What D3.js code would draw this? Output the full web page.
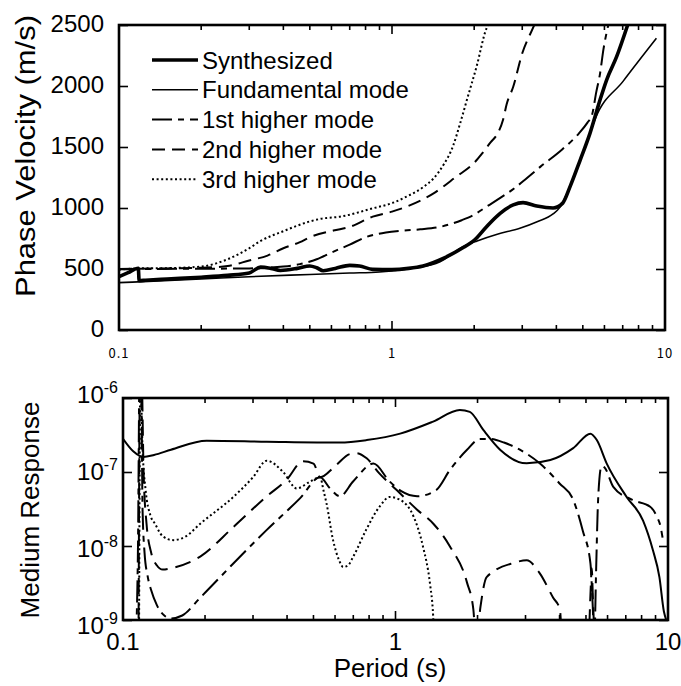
<!DOCTYPE html>
<html><head><meta charset="utf-8">
<script src="https://cdn.jsdelivr.net/npm/d3@7"></script>
<style>body{margin:0;background:#fff}svg{display:block}</style>
</head><body>
<script>
// ---------- DATA ----------
const velTicks = [0, 500, 1000, 1500, 2000, 2500];
const periodMajor = [0.1, 1, 10];
const periodLabels = ["0.1", "1", "10"];
const respTicks = [1e-6, 1e-7, 1e-8, 1e-9];
const respExp = ["-6", "-7", "-8", "-9"];
const legendLabels = ["Synthesized", "Fundamental mode", "1st higher mode", "2nd higher mode", "3rd higher mode"];

// Phase velocity (m/s) vs period (s)
const synthT = [0.1, 0.108, 0.1177, 0.1185, 0.125, 0.15, 0.2, 0.25, 0.3, 0.33, 0.36, 0.39, 0.45, 0.5, 0.53, 0.56, 0.62, 0.7, 0.76, 0.85, 1.0, 1.15, 1.3, 1.54, 1.83, 2.0, 2.22, 2.49, 2.78, 3.02, 3.39, 3.89, 4.22, 4.49, 4.89, 5.31, 5.78, 6.11, 6.65, 7.3];
const synthV = [437, 470, 506, 405, 408, 418, 433, 448, 468, 515, 505, 488, 505, 525, 510, 486, 505, 530, 525, 497, 495, 505, 525, 587, 678, 735, 847, 956, 1025, 1044, 1016, 1000, 1040, 1175, 1393, 1612, 1885, 2049, 2240, 2500];
const fundT = [0.1, 0.2, 0.3, 0.5, 0.7, 0.9, 1.0, 1.19, 1.5, 1.82, 2.05, 2.43, 2.94, 3.4, 3.89, 4.12, 4.49, 4.89, 5.31, 5.55, 7.03, 9.3];
const fundV = [388, 418, 437, 455, 467, 476, 485, 506, 560, 683, 730, 785, 834, 888, 951, 1005, 1175, 1393, 1612, 1730, 2040, 2391];
const mode1T = [0.1, 0.2, 0.3, 0.4, 0.46, 0.53, 0.6, 0.7, 0.8, 0.95, 1.1, 1.27, 1.5, 1.67, 1.8, 2.0, 2.22, 2.5, 2.8, 3.1, 3.5, 4.2, 4.84, 5.2, 5.4, 5.6, 5.78, 5.95, 6.1, 6.2];
const mode1V = [500, 502, 505, 520, 540, 580, 635, 700, 760, 800, 815, 825, 845, 874, 900, 945, 1011, 1085, 1160, 1240, 1339, 1480, 1612, 1700, 1760, 1950, 2100, 2300, 2430, 2500];
const mode2T = [0.1, 0.15, 0.2, 0.25, 0.3, 0.35, 0.4, 0.46, 0.5, 0.61, 0.7, 0.85, 1.0, 1.13, 1.42, 1.72, 2.0, 2.14, 2.3, 2.44, 2.55, 2.63, 2.78, 3.0, 3.3, 3.32];
const mode2V = [500, 505, 510, 525, 570, 610, 670, 720, 760, 815, 845, 929, 970, 1011, 1120, 1257, 1370, 1448, 1540, 1612, 1721, 1850, 1994, 2268, 2486, 2500];
const mode3T = [0.1, 0.12, 0.15, 0.2, 0.25, 0.3, 0.33, 0.4, 0.45, 0.5, 0.55, 0.65, 0.85, 1.0, 1.13, 1.3, 1.42, 1.55, 1.67, 1.78, 1.88, 2.04, 2.22, 2.25];
const mode3V = [495, 505, 507, 520, 580, 670, 730, 810, 855, 890, 912, 930, 997, 1040, 1093, 1170, 1243, 1360, 1503, 1700, 1885, 2158, 2473, 2500];

// Medium response vs period (s)
const rFundT = [0.1, 0.109, 0.1187, 0.13, 0.15, 0.2027, 0.337, 0.625, 0.784, 1.04, 1.374, 1.722, 1.874, 2.1, 2.42, 3.03, 3.7, 4.49, 5.19, 5.48, 5.96, 7.05, 8.1, 8.8, 9.3, 9.66, 9.85];
const rFundR = [2.8e-7, 1.9e-7, 1.6e-7, 1.7e-7, 2.0e-7, 2.65e-7, 2.57e-7, 2.5e-7, 2.7e-7, 3.3e-7, 4.8e-7, 6.9e-7, 6.5e-7, 3.7e-7, 2.0e-7, 1.31e-7, 1.45e-7, 2.1e-7, 3.3e-7, 2.7e-7, 1.3e-7, 4.6e-8, 2.2e-8, 8.8e-9, 3.8e-9, 1.3e-9, 1e-9];
const rMode1T = [0.1115, 0.1135, 0.115, 0.1165, 0.118, 0.12, 0.123, 0.127, 0.133, 0.14, 0.15, 0.165, 0.192, 0.254, 0.337, 0.446, 0.529, 0.575, 0.625, 0.7, 0.83, 0.95, 1.05, 1.2, 1.41, 1.585, 1.83, 2.04, 2.2, 2.5, 2.86, 3.39, 4.0, 4.49, 4.87, 5.19, 5.3, 5.36, 5.45, 5.52, 5.6, 5.7, 5.85, 6.3, 7.4, 8.6, 9.1, 9.4, 9.55];
const rMode1R = [5e-10, 1e-8, 2e-6, 2e-6, 3e-8, 8e-9, 4e-9, 2.5e-9, 1.6e-9, 1.2e-9, 1.05e-9, 1.15e-9, 2e-9, 5.8e-9, 1.65e-8, 4.4e-8, 8.5e-8, 6e-8, 4.7e-8, 7.5e-8, 1.3e-7, 7.5e-8, 5.5e-8, 4.7e-8, 5.7e-8, 1.07e-7, 2.0e-7, 2.8e-7, 2.8e-7, 2.5e-7, 2.0e-7, 1.3e-7, 7e-8, 4.2e-8, 1.6e-8, 5.9e-9, 1.4e-9, 5e-10, 5e-9, 3e-8, 8e-8, 1.2e-7, 1.15e-7, 6.3e-8, 4.2e-8, 3.4e-8, 2.5e-8, 1.8e-8, 1.3e-8];
const rMode2T = [0.114, 0.1155, 0.117, 0.119, 0.122, 0.127, 0.133, 0.14, 0.15, 0.192, 0.254, 0.337, 0.398, 0.458, 0.5, 0.529, 0.6, 0.68, 0.72, 0.784, 0.874, 1.01, 1.2, 1.377, 1.58, 1.83, 1.93, 1.98, 2.05, 2.16, 2.71, 3.03, 3.38, 3.79, 4.01, 4.1, 5.1, 5.2, 5.25, 5.3, 5.38];
const rMode2R = [5e-10, 2e-6, 2e-6, 1e-7, 2e-8, 8e-9, 5.5e-9, 4.8e-9, 5e-9, 7.2e-9, 1.8e-8, 4.7e-8, 7.8e-8, 1.4e-7, 1.3e-7, 8.5e-8, 1.2e-7, 1.75e-7, 1.8e-7, 1.53e-7, 9.5e-8, 5.7e-8, 3.1e-8, 2e-8, 1e-8, 3.2e-9, 1.4e-9, 5e-10, 1.5e-9, 3.8e-9, 5.9e-9, 6.4e-9, 4.3e-9, 2e-9, 1.4e-9, 5e-10, 5e-10, 2.5e-9, 5e-9, 2e-9, 5e-10];
const rMode3T = [0.1145, 0.1158, 0.118, 0.121, 0.126, 0.131, 0.14, 0.153, 0.17, 0.192, 0.254, 0.3, 0.337, 0.387, 0.434, 0.485, 0.529, 0.545, 0.558, 0.59, 0.62, 0.643, 0.67, 0.7, 0.78, 0.874, 0.952, 1.04, 1.165, 1.26, 1.34, 1.37, 1.39];
const rMode3R = [5e-10, 2e-6, 2e-7, 5.8e-8, 2.6e-8, 2e-8, 1.35e-8, 1.2e-8, 1.35e-8, 2e-8, 4.6e-8, 8.5e-8, 1.42e-7, 1.0e-7, 6e-8, 7.4e-8, 8.5e-8, 5.5e-8, 3.8e-8, 1.2e-8, 6.5e-9, 5.2e-9, 5.5e-9, 7.2e-9, 1.65e-8, 3.4e-8, 4.6e-8, 4.2e-8, 2.5e-8, 1e-8, 3e-9, 1.4e-9, 5e-10];

// ---------- STYLES ----------
const FONT = "'Liberation Sans', Arial, Helvetica, sans-serif";
const styles = [
  {w: 3.6, dash: null},
  {w: 1.6, dash: null},
  {w: 2, dash: "20,6,6,6"},
  {w: 2, dash: "13,7"},
  {w: 2, dash: "2,2.6"}
];
const stylesBot = [
  null,
  {w: 2, dash: null},
  {w: 2, dash: "22,6,6,6"},
  {w: 2, dash: "16,8"},
  {w: 2, dash: "2,2.6"}
];

const W = 681, H = 686;
const svg = d3.select("body").append("svg").attr("width", W).attr("height", H)
  .style("font-family", FONT);

// ---------- TOP CHART ----------
const T = {l: 119, r: 665, t: 25, b: 330};
const xTop = d3.scaleLog().domain([0.1, 10]).range([T.l, T.r]);
const yTop = d3.scaleLinear().domain([0, 2500]).range([T.b, T.t]);

svg.append("clipPath").attr("id", "clipTop").append("rect")
  .attr("x", T.l).attr("y", T.t).attr("width", T.r - T.l).attr("height", T.b - T.t);

function ticksX(g, scale, y, dir) {
  const tv = scale.ticks();
  g.selectAll(null).data(tv).enter().append("line")
    .attr("x1", d => scale(d)).attr("x2", d => scale(d))
    .attr("y1", y).attr("y2", d => y + dir * (periodMajor.includes(+d.toPrecision(3)) ? 9 : 5))
    .attr("stroke", "#000").attr("stroke-width", 1.6);
}

const gTop = svg.append("g");
gTop.append("g").attr("transform", `translate(${T.l},0)`)
  .call(d3.axisLeft(yTop).tickValues(velTicks).tickSize(-9).tickPadding(15).tickFormat(d3.format("d")))
  .call(g => g.select(".domain").remove())
  .call(g => g.selectAll("line").attr("stroke-width", 1.6))
  .call(g => g.selectAll("text").attr("font-size", 24).attr("font-family", FONT).attr("fill", "#000").attr("dy", "0.28em"));
gTop.append("g").attr("transform", `translate(${T.r},0)`)
  .call(d3.axisRight(yTop).tickValues(velTicks).tickSize(-9).tickFormat(""))
  .call(g => g.select(".domain").remove())
  .call(g => g.selectAll("line").attr("stroke-width", 1.6));
ticksX(gTop, xTop, T.b, -1);
ticksX(gTop, xTop, T.t, 1);

gTop.selectAll(".xlab").data(periodMajor).enter().append("text")
  .attr("x", d => xTop(d)).attr("y", 358).attr("text-anchor", "middle")
  .attr("font-size", 13).attr("font-family", "'Noto Sans CJK JP', sans-serif")
  .attr("letter-spacing", 1)
  .text((d, i) => periodLabels[i]);

const lineTop = d3.line().x(d => xTop(d[0])).y(d => yTop(d[1])).curve(d3.curveMonotoneX);
const topSeries = [
  d3.zip(synthT, synthV), d3.zip(fundT, fundV), d3.zip(mode1T, mode1V),
  d3.zip(mode2T, mode2V), d3.zip(mode3T, mode3V)
];
const gTopLines = gTop.append("g").attr("clip-path", "url(#clipTop)");
[4, 3, 2, 1, 0].forEach(i => {
  gTopLines.append("path").attr("d", lineTop(topSeries[i]))
    .attr("fill", "none").attr("stroke", "#000")
    .attr("stroke-width", styles[i].w)
    .attr("stroke-dasharray", styles[i].dash)
    .attr("stroke-linejoin", "round");
});
gTop.append("rect").attr("x", T.l).attr("y", T.t).attr("width", T.r - T.l).attr("height", T.b - T.t)
  .attr("fill", "none").attr("stroke", "#000").attr("stroke-width", 2.6);

const leg = gTop.append("g");
legendLabels.forEach((lab, i) => {
  const y = 60 + i * 29.8;
  leg.append("line").attr("x1", 152).attr("x2", 198).attr("y1", y).attr("y2", y)
    .attr("stroke", "#000").attr("stroke-width", styles[i].w)
    .attr("stroke-dasharray", styles[i].dash);
  leg.append("text").attr("x", 202).attr("y", y + 8.5).attr("font-size", 24).text(lab);
});

svg.append("text").attr("transform", "translate(35,156) rotate(-90)")
  .attr("text-anchor", "middle").attr("font-size", 27)
  .attr("textLength", 282).attr("lengthAdjust", "spacingAndGlyphs")
  .text("Phase Velocity (m/s)");

// ---------- BOTTOM CHART ----------
const B = {l: 123, r: 668, t: 398, b: 620};
const xBot = d3.scaleLog().domain([0.1, 10]).range([B.l, B.r]);
const yBot = d3.scaleLog().domain([1e-9, 1e-6]).range([B.b, B.t]);

svg.append("clipPath").attr("id", "clipBot").append("rect")
  .attr("x", B.l).attr("y", B.t).attr("width", B.r - B.l).attr("height", B.b - B.t);

const gBot = svg.append("g");
gBot.append("g").attr("transform", `translate(${B.l},0)`)
  .call(d3.axisLeft(yBot).tickValues(respTicks).tickSize(-9).tickFormat(""))
  .call(g => g.select(".domain").remove())
  .call(g => g.selectAll("line").attr("stroke-width", 1.6));
gBot.append("g").attr("transform", `translate(${B.r},0)`)
  .call(d3.axisRight(yBot).tickValues(respTicks).tickSize(-9).tickFormat(""))
  .call(g => g.select(".domain").remove())
  .call(g => g.selectAll("line").attr("stroke-width", 1.6));
ticksX(gBot, xBot, B.b, -1);
ticksX(gBot, xBot, B.t, 1);

respTicks.forEach((v, i) => {
  const t = gBot.append("text").attr("x", 118).attr("y", yBot(v) + 5 + i * 3)
    .attr("text-anchor", "end").attr("font-size", 24);
  t.append("tspan").text("10");
  t.append("tspan").attr("font-size", 16).attr("dy", -10).text(respExp[i]);
});
gBot.selectAll(".bxlab").data(periodMajor).enter().append("text")
  .attr("x", d => xBot(d)).attr("y", 650).attr("text-anchor", "middle")
  .attr("font-size", 24).text((d, i) => periodLabels[i]);

const lineBot = d3.line().x(d => xBot(d[0])).y(d => yBot(d[1])).curve(d3.curveMonotoneX);
const botSeries = [
  null, d3.zip(rFundT, rFundR), d3.zip(rMode1T, rMode1R),
  d3.zip(rMode2T, rMode2R), d3.zip(rMode3T, rMode3R)
];
const gBotLines = gBot.append("g").attr("clip-path", "url(#clipBot)");
[4, 3, 2, 1].forEach(i => {
  gBotLines.append("path").attr("d", lineBot(botSeries[i]))
    .attr("fill", "none").attr("stroke", "#000")
    .attr("stroke-width", stylesBot[i].w)
    .attr("stroke-dasharray", stylesBot[i].dash)
    .attr("stroke-linejoin", "round");
});
gBot.append("rect").attr("x", B.l).attr("y", B.t).attr("width", B.r - B.l).attr("height", B.b - B.t)
  .attr("fill", "none").attr("stroke", "#000").attr("stroke-width", 2.6);

svg.append("text").attr("transform", "translate(39,510) rotate(-90)")
  .attr("text-anchor", "middle").attr("font-size", 26).text("Medium Response");
svg.append("text").attr("x", 390).attr("y", 677)
  .attr("text-anchor", "middle").attr("font-size", 26).text("Period (s)");
</script>
</body></html>
